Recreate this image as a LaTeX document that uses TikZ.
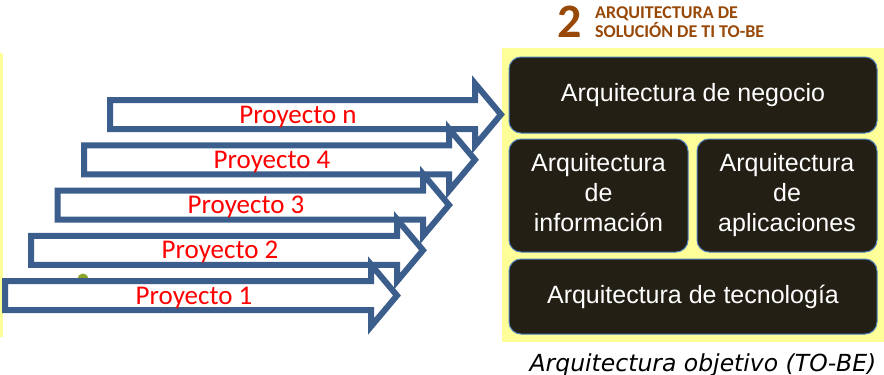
\documentclass[tikz,border=0pt]{standalone}
\usepackage{fontspec}
\setmainfont{Carlito}
\newfontfamily\arialfont{Liberation Sans}
\newfontfamily\captionfont{DejaVu Sans}
\definecolor{arrowblue}{RGB}{59,94,140}
\definecolor{paleyellow}{RGB}{255,255,153}
\definecolor{boxfill}{RGB}{35,31,20}
\definecolor{boxedge}{RGB}{79,129,189}
\definecolor{headbrown}{RGB}{152,72,7}
\definecolor{dotgreen}{RGB}{140,165,40}

\begin{document}
\begin{tikzpicture}[x=1pt, y=-1pt,
    projarrow/.style={draw=arrowblue, line width=6pt, fill=white, line join=miter},
    projlabel/.style={text=red, font=\fontsize{27}{32}\selectfont, inner sep=0pt, anchor=base},
    archbox/.style={draw=boxedge, line width=1pt, fill=boxfill, rounded corners=12pt,
        text=white, align=center, inner sep=0pt,
        font=\arialfont\fontsize{25}{30}\selectfont}]

    \useasboundingbox (0,0) rectangle (884,375);

    % Yellow panels
    \fill[paleyellow] (0,53) rectangle (3,337);
    \fill[paleyellow] (502,48) rectangle (884,342);

    % Small green dot behind the first arrow
    \fill[dotgreen] (83,279) circle[radius=5.5];

    % Project arrows, back to front
    \draw[projarrow] (110,100) -- (475,100) -- (475,83.5) -- (501,114.5)
        -- (475,145.5) -- (475,129) -- (110,129) -- cycle;
    \node[projlabel] (pn) at (298,123) {Proyecto n};

    \draw[projarrow] (84,145.25) -- (449,145.25) -- (449,128.75) -- (475,159.75)
        -- (449,190.75) -- (449,174.25) -- (84,174.25) -- cycle;
    \node[projlabel] (p4) at (272,168.25) {Proyecto 4};

    \draw[projarrow] (57.5,190.5) -- (423,190.5) -- (423,174) -- (449,205)
        -- (423,236) -- (423,219.5) -- (57.5,219.5) -- cycle;
    \node[projlabel] (p3) at (246,213.5) {Proyecto 3};

    \draw[projarrow] (31,235.75) -- (397,235.75) -- (397,219.25) -- (423,250.25)
        -- (397,281.25) -- (397,264.75) -- (31,264.75) -- cycle;
    \node[projlabel] (p2) at (220,258.75) {Proyecto 2};

    \draw[projarrow] (5,281) -- (371,281) -- (371,264.5) -- (397,295.5)
        -- (371,326.5) -- (371,310) -- (5,310) -- cycle;
    \node[projlabel] (p1) at (194,304) {Proyecto 1};

    % Heading
    \node[text=headbrown, font=\bfseries\fontsize{48}{48}\selectfont, inner sep=0pt,
        anchor=base west] (num) at (557,37) {2};
    \node[text=headbrown, font=\bfseries\fontsize{18}{16}\selectfont, inner sep=0pt,
        align=left, anchor=base west] (head) at (595,37) {ARQUITECTURA DE\\SOLUCIÓN DE TI TO-BE};

    % Target architecture blocks
    \node[archbox, minimum width=368, minimum height=76] (negocio) at (693,95)
        {Arquitectura de negocio};
    \node[archbox, minimum width=179, minimum height=113] (info) at (598.5,195.5)
        {\strut Arquitectura\\de\\información\strut};
    \node[archbox, minimum width=180, minimum height=113] (apps) at (787,195.5)
        {\strut Arquitectura\\de\\aplicaciones\strut};
    \node[archbox, minimum width=368, minimum height=75] (tecno) at (693,296.5)
        {Arquitectura de tecnología};

    % Caption
    \node[font=\captionfont\itshape\fontsize{23.5}{28}\selectfont, inner sep=0pt, anchor=base]
        (caption) at (703,371) {Arquitectura objetivo (TO-BE)};

\end{tikzpicture}
\end{document}
